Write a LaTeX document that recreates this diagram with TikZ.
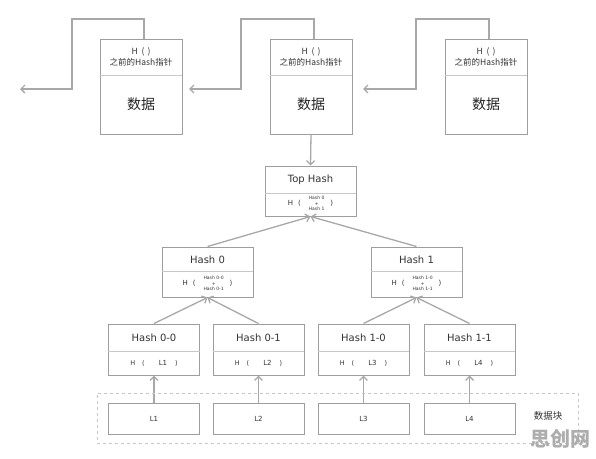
\documentclass[tikz,border=0pt]{standalone}
\usepackage{fontspec}
\setmainfont{DejaVu Sans}
\newfontfamily\cjk{Noto Sans CJK SC}
\usetikzlibrary{arrows.meta}
\definecolor{bd}{HTML}{9E9E9E}
\definecolor{ln}{HTML}{A8A8A8}
\definecolor{tx}{HTML}{333333}
\definecolor{dv}{HTML}{C8C8C8}
\definecolor{wm}{HTML}{ADADAD}
\newcommand{\hstk}[2]{H\hspace{5pt}(\hspace{8pt}$\vcenter{\hbox{\fontsize{4.5}{5.6}\selectfont\begin{tabular}{@{}c@{}}#1\\+\\#2\end{tabular}}}$\hspace{6pt})}
\newcommand{\hleaf}[1]{H\hspace{7pt}(\hspace{14pt}{\fontsize{7}{8}\selectfont #1}\hspace{8pt})}
\begin{document}
\begin{tikzpicture}[x=1pt,y=-1pt,
  frame/.style={draw=bd, line width=1pt, inner sep=0pt},
  part/.style={inner sep=0pt, text=tx},
  divline/.style={draw=dv, line width=0.8pt},
  arr/.style={draw=ln, line width=1.3pt, -{Straight Barb[length=4pt,width=8pt]}},
  hdr/.style={part, align=center, font=\cjk\fontsize{8.5}{12}\selectfont},
  big/.style={part, font=\cjk\fontsize{14}{16}\selectfont, text=black!85},
  title/.style={part, font=\fontsize{10}{12}\selectfont},
  sub/.style={part, font=\fontsize{7}{8}\selectfont},
  leafbox/.style={frame, minimum width=91, minimum height=31, font=\fontsize{7}{8}\selectfont, text=tx}
]
\useasboundingbox[fill=white] (0,0) rectangle (596,458);

% ---- blockchain blocks ----
\foreach \n/\cx in {1/141, 2/311, 3/486} {
  \node[frame, minimum width=82, minimum height=95] (b\n) at (\cx,86.5) {};
  \node[hdr, minimum width=82, minimum height=36] (b\n h) at (\cx,57) {H\hspace{4pt}(\hspace{3pt})\\[-1pt]之前的Hash指针};
  \node[big, minimum width=82, minimum height=59] (b\n d) at (\cx,104.5) {数据};
  \draw[divline] (b\n h.south west) -- (b\n h.south east);
}
\coordinate (k1) at (72,19);
\coordinate (k2) at (241,19);
\coordinate (k3) at (416,19);
\coordinate (e0) at (20,89);
\coordinate (e1) at (189,89);
\coordinate (e2) at (363,89);
\draw[arr] ([xshift=3pt]b1.north) |- (k1) |- (e0);
\draw[arr] ([xshift=3pt]b2.north) |- (k2) |- (e1);
\draw[arr] ([xshift=3pt]b3.north) |- (k3) |- (e2);

% ---- Top Hash ----
\node[frame, minimum width=91, minimum height=50] (th) at (310.5,191) {};
\node[title, minimum width=91, minimum height=26] (thh) at (310.5,180) {Top Hash};
\node[sub, minimum width=91, minimum height=24] (thd) at (310.5,204) {\hstk{Hash 0}{Hash 1}};
\draw[divline] (thh.south west) -- (thh.south east);
\draw[arr] (b2.south) -- (th.north);

% ---- Hash 0 / Hash 1 ----
\foreach \n/\cx/\a/\b/\t in {0/207.5/Hash 0-0/Hash 0-1/Hash 0, 1/416.5/Hash 1-0/Hash 1-1/Hash 1} {
  \node[frame, minimum width=91, minimum height=50] (h\n) at (\cx,272) {};
  \node[title, minimum width=91, minimum height=23] (h\n h) at (\cx,259.5) {\t};
  \node[sub, minimum width=91, minimum height=27] (h\n d) at (\cx,284) {\hstk{\a}{\b}};
  \draw[divline] (h\n h.south west) -- (h\n h.south east);
  \draw[arr] (h\n.north) -- (th.south);
}

% ---- leaf hashes ----
\foreach \n/\cx/\lab/\L/\p in {00/154/Hash 0-0/L1/h0, 01/258.5/Hash 0-1/L2/h0, 10/363.5/Hash 1-0/L3/h1, 11/469.5/Hash 1-1/L4/h1} {
  \node[frame, minimum width=91, minimum height=51] (h\n) at (\cx,349.5) {};
  \node[title, minimum width=91, minimum height=27] (h\n h) at (\cx,338) {\lab};
  \node[sub, minimum width=91, minimum height=24] (h\n d) at (\cx,363) {\fontsize{6.5}{8}\selectfont\hleaf{\L}};
  \draw[divline] (h\n h.south west) -- (h\n h.south east);
  \draw[arr] (h\n.north) -- (\p.south);
  \node[leafbox] (l\n) at (\cx,418.5) {\L};
  \draw[arr] (l\n.north) -- (h\n.south);
}

% ---- data block frame ----
\node[draw=dv, dashed, line width=0.8pt, minimum width=481, minimum height=50, inner sep=0pt] (blk) at (337.5,418) {};
\node[part, font=\cjk\fontsize{9.5}{11}\selectfont] (blkl) at (548,416) {数据块};

% ---- watermark ----
\node[inner sep=0pt, text=wm, font=\cjk\bfseries\fontsize{20}{22}\selectfont] (wmk) at (560,439) {思创网};
\end{tikzpicture}
\end{document}
